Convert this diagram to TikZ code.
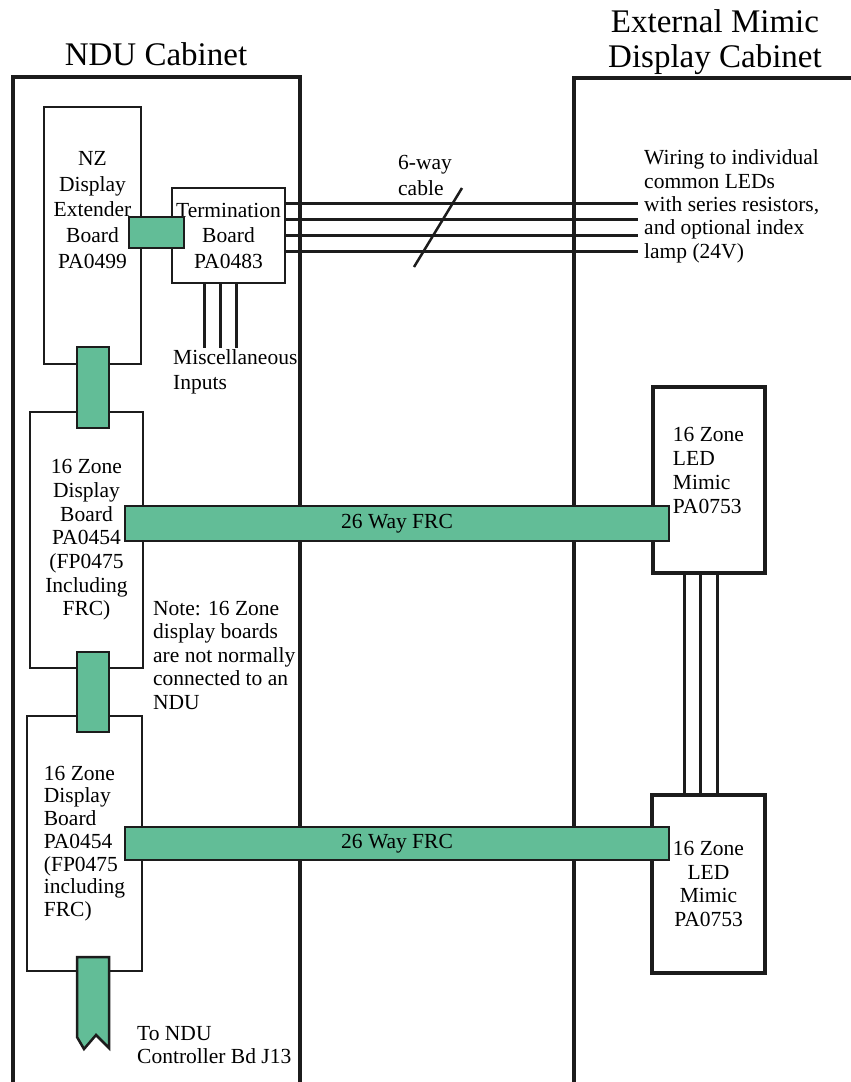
\documentclass[tikz,border=0pt]{standalone}
\usepackage{fontspec}
\setmainfont{Liberation Serif}
\usetikzlibrary{positioning}
\definecolor{frcgreen}{RGB}{98,189,151}
\definecolor{edge}{RGB}{28,28,28}
\newcommand{\boardsize}[1]{\fontsize{21.5}{#1}\selectfont}
\tikzset{
	cabinet/.style={draw=edge, line width=4pt},
	board/.style={draw=edge, line width=2.7pt, fill=white, inner sep=0pt, outer sep=0pt, align=center, font=\boardsize{23.7}},
	mimic/.style={board, line width=3.5pt},
	plug/.style={draw=edge, line width=2.5pt, fill=frcgreen, inner sep=0pt, outer sep=0pt},
	frc/.style={plug, font=\boardsize{23.7}},
	wire/.style={draw=edge, line width=3pt},
	boardtext/.style={inner sep=0pt, align=center, font=\boardsize{23.7}},
	note/.style={inner sep=0pt, align=left, anchor=base west, font=\boardsize{23.5}},
	heading/.style={inner sep=0pt, align=center, anchor=base, font=\fontsize{33}{35}\selectfont},
}

\begin{document}
\begin{tikzpicture}[x=1pt, y=-1pt]
	\useasboundingbox (0,0) rectangle (851,1082);
	
	% Cabinets
	\draw[cabinet] (13,1090) -- (13,76.5) -- (300,76.5) -- (300,1090);
	\draw[cabinet] (574,1090) -- (574,77.5) -- (860,77.5);
	\node[heading] (nduhead) at (156,65) {NDU Cabinet};
	\node[heading] (exthead) at (715,67) {External Mimic\\Display Cabinet};
	
	% NDU boards
	\node[board, minimum width=97pt, minimum height=257pt] (nz) at (92.5,235.5) {};
	\node[board, minimum width=113pt, minimum height=95pt, font=\boardsize{25.5}] (term) at (228.5,235.5) {Termination\\Board\\PA0483};
	\node[board, minimum width=113pt, minimum height=256pt] (zoneA) at (86.5,540) {16 Zone\\Display\\Board\\PA0454\\(FP0475\\Including\\FRC)};
	\node[board, align=left, minimum width=115pt, minimum height=255pt, font=\boardsize{22.7}] (zoneB) at (84.5,843.5) {16 Zone\\Display\\Board\\PA0454\\(FP0475\\including\\FRC)};
	
	% Mimic boards
	\node[mimic, minimum width=112pt, minimum height=186pt] (mimicA) at (709,480) {};
	\node[mimic, minimum width=113pt, minimum height=178pt] (mimicB) at (708.5,884) {16 Zone\\LED\\Mimic\\PA0753};
	
	% Wiring
	\coordinate (ledA) at (638,203);
	\coordinate (ledB) at (638,219);
	\coordinate (ledC) at (638,235);
	\coordinate (ledD) at (638,251);
	\draw[wire] (term.east |- ledA) -- (ledA);
	\draw[wire] (term.east |- ledB) -- (ledB);
	\draw[wire] (term.east |- ledC) -- (ledC);
	\draw[wire] (term.east |- ledD) -- (ledD);
	\coordinate (slashlo) at (414,267);
	\coordinate (slashhi) at (462,188);
	\draw[wire, line width=2.5pt] (slashlo) -- (slashhi);
	
	\coordinate (miscA) at (204,348);
	\coordinate (miscB) at (220,348);
	\coordinate (miscC) at (236,348);
	\draw[wire] (term.south -| miscA) -- (miscA);
	\draw[wire] (term.south -| miscB) -- (miscB);
	\draw[wire] (term.south -| miscC) -- (miscC);
	
	\coordinate (linkA) at (684,0);
	\coordinate (linkB) at (700.5,0);
	\coordinate (linkC) at (717,0);
	\draw[wire] (mimicA.south -| linkA) -- (mimicB.north -| linkA);
	\draw[wire] (mimicA.south -| linkB) -- (mimicB.north -| linkB);
	\draw[wire] (mimicA.south -| linkC) -- (mimicB.north -| linkC);
	
	% Plugs and ribbon cables
	\node[plug, minimum width=55pt, minimum height=31pt] (plugT) at (156.5,232.5) {};
	\node[plug, minimum width=32pt, minimum height=81pt] (plugA) at (93,387.5) {};
	\node[plug, minimum width=32pt, minimum height=80pt] (plugB) at (93,692) {};
	\draw[plug] (77,957) -- (77,1037) -- (84,1049) -- (96,1035) -- (109,1048) -- (109,957) -- cycle;
	\node[frc, minimum width=544pt, minimum height=35pt] (frcA) at (397,523.5) {26 Way FRC};
	\node[frc, minimum width=544pt, minimum height=33pt] (frcB) at (397,843.5) {26 Way FRC};
	
	% Texts
	\node[boardtext, font=\boardsize{25.7}] (nztext) at (92.5,210) {NZ\\Display\\Extender\\Board\\PA0499};
	\node[boardtext, align=left] (mimicAtext) at (708.5,470.5) {16 Zone\\LED\\Mimic\\PA0753};
	\node[note, font=\boardsize{26}] (cabletext) at (398,195) {6-way\\cable};
	\node[note, font=\boardsize{23.3}] (wiringtext) at (644,258) {Wiring to individual\\common LEDs\\with series resistors,\\and optional index\\lamp (24V)};
	\node[note, font=\boardsize{25}] (misctext) at (173,389) {Miscellaneous\\Inputs};
	\node[note] (notetext) at (153,709) {Note: 16 Zone\\display boards\\are not normally\\connected to an\\NDU};
	\node[note, font=\boardsize{23}] (ctrltext) at (137,1063) {To NDU\\Controller Bd J13};
	
\end{tikzpicture}
\end{document}
